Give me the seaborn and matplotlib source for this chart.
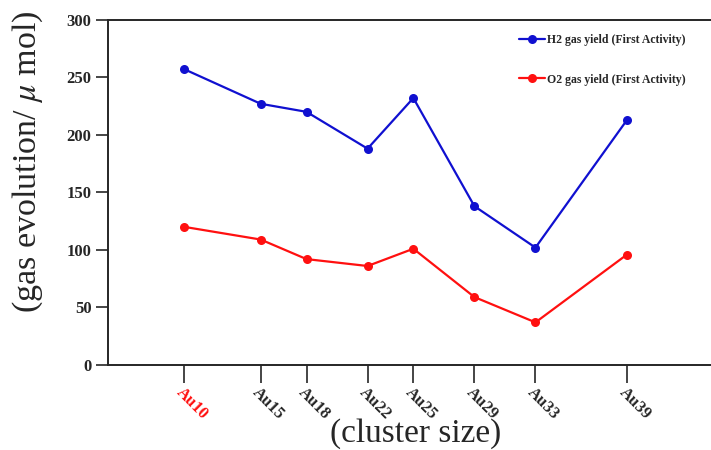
import pandas as pd
import seaborn as sns
import matplotlib
matplotlib.use('Agg')
import matplotlib.pyplot as plt

# cluster sizes and gas yields (micro mol)
sizes = [10, 15, 18, 22, 25, 29, 33, 39]
tick_labels = ['Au10', 'Au15', 'Au18', 'Au22', 'Au25', 'Au29', 'Au33', 'Au39']
h2_yield = [257, 227, 220, 188, 232, 138, 102, 213]
o2_yield = [120, 109, 92, 86, 101, 59, 37, 96]
series_names = ['H2 gas yield (First Activity)', 'O2 gas yield (First Activity)']

df = pd.DataFrame({
    'size': sizes * 2,
    'yield': h2_yield + o2_yield,
    'series': [series_names[0]] * len(sizes) + [series_names[1]] * len(sizes),
})

sns.set_style('ticks')
plt.rcParams['font.family'] = ['Liberation Serif', 'DejaVu Serif']
plt.rcParams['mathtext.fontset'] = 'stix'

fig = plt.figure(figsize=(7.11, 4.5), dpi=100)
ax = fig.add_axes([0.152, 0.189, 0.848, 0.767])

sns.lineplot(data=df, x='size', y='yield', hue='series', marker='o',
             markersize=6.5, markeredgewidth=0, linewidth=1.6,
             palette=['#1010d0', '#ff1010'], ax=ax)

ax.set_xlim(5, 44.5)
ax.set_ylim(0, 300)
ax.set_yticks([0, 50, 100, 150, 200, 250, 300])
ax.set_xticks(sizes)
ax.set_xticklabels(tick_labels, rotation=-45, ha='left', va='top',
                   rotation_mode='anchor')
for lbl in ax.get_xticklabels() + ax.get_yticklabels():
    lbl.set_fontweight('bold')
    lbl.set_fontsize(12)
ax.get_xticklabels()[0].set_color('#ff1010')

ax.tick_params(axis='y', length=9, width=1.2, pad=3)
ax.tick_params(axis='x', length=13, width=1.2, pad=1)
for s in ['left', 'bottom', 'top']:
    ax.spines[s].set_linewidth(1.4)
ax.spines['right'].set_visible(False)

ax.set_xlabel('(cluster size)', fontsize=24)
ax.set_ylabel(r'(gas evolution/ $\mu$ mol)', fontsize=24.5)
ax.xaxis.set_label_coords(0.51, -0.155)
ax.yaxis.set_label_coords(-0.104, 0.59)

leg = ax.legend(loc='upper right', bbox_to_anchor=(0.976, 0.99), frameon=False,
                prop={'size': 8.5, 'weight': 'bold'}, labelspacing=2.35,
                handlelength=2.2, handletextpad=0.2)

plt.savefig('out.png', dpi=100)
